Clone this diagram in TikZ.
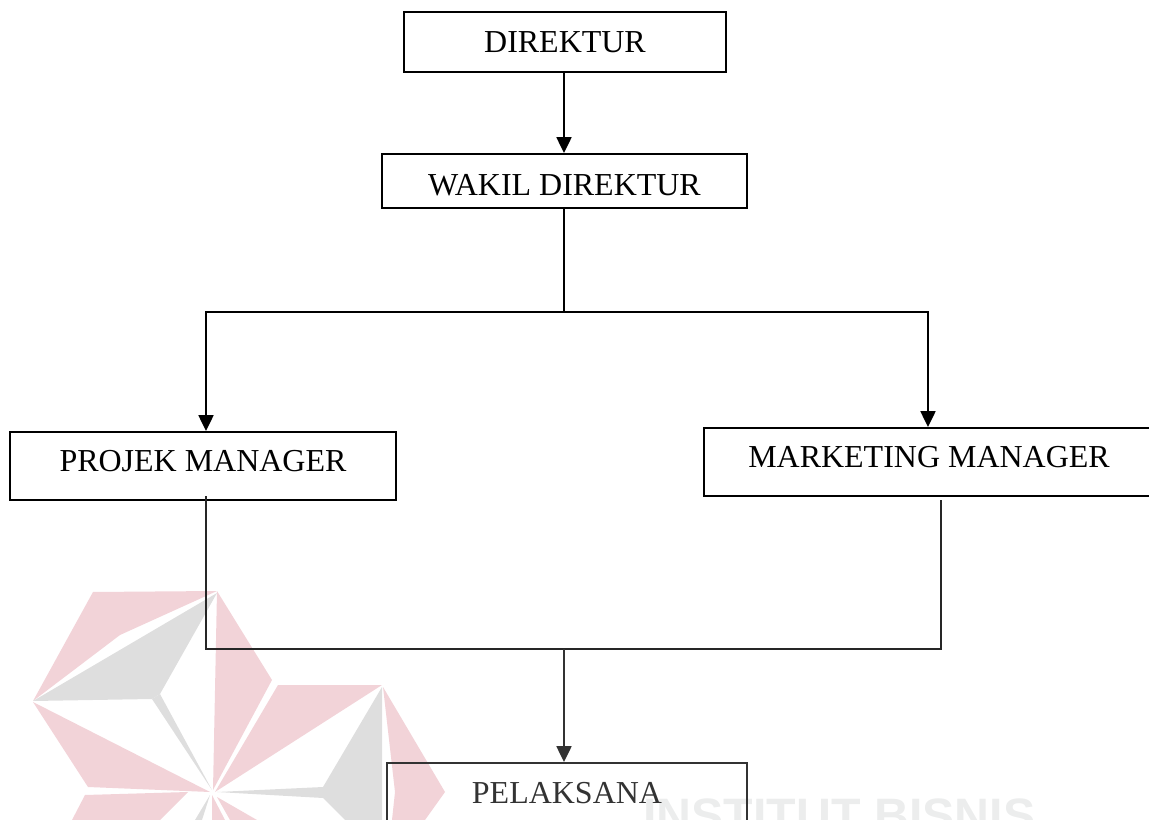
\documentclass[tikz,border=0pt]{standalone}
\usepackage{fontspec}
\setmainfont{Liberation Serif}
\newfontfamily\markfont{Liberation Sans}
\usepackage{xcolor}
\usetikzlibrary{arrows.meta,positioning}
\tikzset{org box/.style={draw=black, line width=1.1pt, inner sep=0, font=\fontsize{18.2}{18.2}\selectfont},
	org line/.style={line width=1.1pt},
	org arrow/.style={line width=1.1pt, arrows = {-Stealth[length=9pt, width=8.5pt, inset=0pt]}}}
\definecolor{MarkRed}{HTML}{F2D3D8}
\definecolor{MarkGray}{HTML}{DEDEDE}
\definecolor{MarkText}{HTML}{ECEDED}

\begin{document}
\begin{tikzpicture}[x=0.02cm, y=-0.02cm]
\useasboundingbox (0,0) rectangle (1149,820);

\fill[MarkRed] (93,592) -- (217,591) -- (120,635) -- (33,701) -- cycle;
\fill[MarkRed] (217,591) -- (272,680) -- (213,790) -- cycle;
\fill[MarkRed] (33,702) -- (210,792) -- (88,787) -- cycle;
\fill[MarkRed] (278,685) -- (382,685) -- (215,792) -- cycle;
\fill[MarkRed] (383,687) -- (445,792) -- (425,820) -- (392,820) -- (395,792) -- cycle;
\fill[MarkRed] (85,795) -- (188,792) -- (160,820) -- (72,820) -- cycle;
\fill[MarkRed] (212,795) -- (212,820) -- (225,820) -- cycle;
\fill[MarkRed] (217,797) -- (257,820) -- (230,820) -- cycle;
\fill[MarkGray] (33,701) -- (217,593) -- (160,694) -- (152,699) -- cycle;
\fill[MarkGray] (160,694) -- (152,699) -- (212,790) -- cycle;
\fill[MarkGray] (382,687) -- (323,787) -- (217,792) -- (323,798) -- (345,820) -- (382,820) -- cycle;
\fill[MarkGray] (210,795) -- (202,820) -- (195,820) -- cycle;
\node[font=\markfont\bfseries\fontsize{27.5}{27.5}\selectfont, text=MarkText, anchor=base west, inner sep=0] (MARK) at (643,832) {INSTITUT BISNIS};

\node[org box, minimum width=6.44cm, minimum height=1.2cm] (DIR) at (565,42) {DIREKTUR};
\node[org box, minimum width=7.3cm, minimum height=1.08cm, text height=17.3pt] (WAK) at (564.5,181) {WAKIL DIREKTUR};
\node[org box, minimum width=7.72cm, minimum height=1.36cm, text depth=5.7pt] (PM) at (203,466) {PROJEK MANAGER};
\node[org box, minimum width=9cm, minimum height=1.36cm, text depth=5.7pt] (MM) at (929,462) {MARKETING MANAGER};
\node[org box, draw=black!80, text=black!80, minimum width=7.2cm, minimum height=1.2cm] (PEL) at (567,793) {PELAKSANA};

\coordinate (TOPM) at (564,312);
\coordinate (TOPL) at (206,312);
\coordinate (TOPR) at (928,312);
\coordinate (PMB) at (206,496);
\coordinate (MMB) at (941,500);
\coordinate (BOTL) at (206,649);
\coordinate (BOTR) at (941,649);
\coordinate (BOTM) at (564,649);

\draw[org arrow] (DIR.south -| TOPM) -- (WAK.north -| TOPM);
\draw[org line] (WAK.south -| TOPM) -- (TOPM);
\draw[org arrow] (TOPM) -- (TOPL) -- (PM.north -| TOPL);
\draw[org arrow] (TOPM) -- (TOPR) -- (MM.north -| TOPR);
\draw[org line, draw=black!85] (PMB) -- (BOTL) -- (BOTR) -- (MMB);
\draw[org arrow, draw=black!80] (BOTM) -- (PEL.north -| BOTM);
\end{tikzpicture}
\end{document}
